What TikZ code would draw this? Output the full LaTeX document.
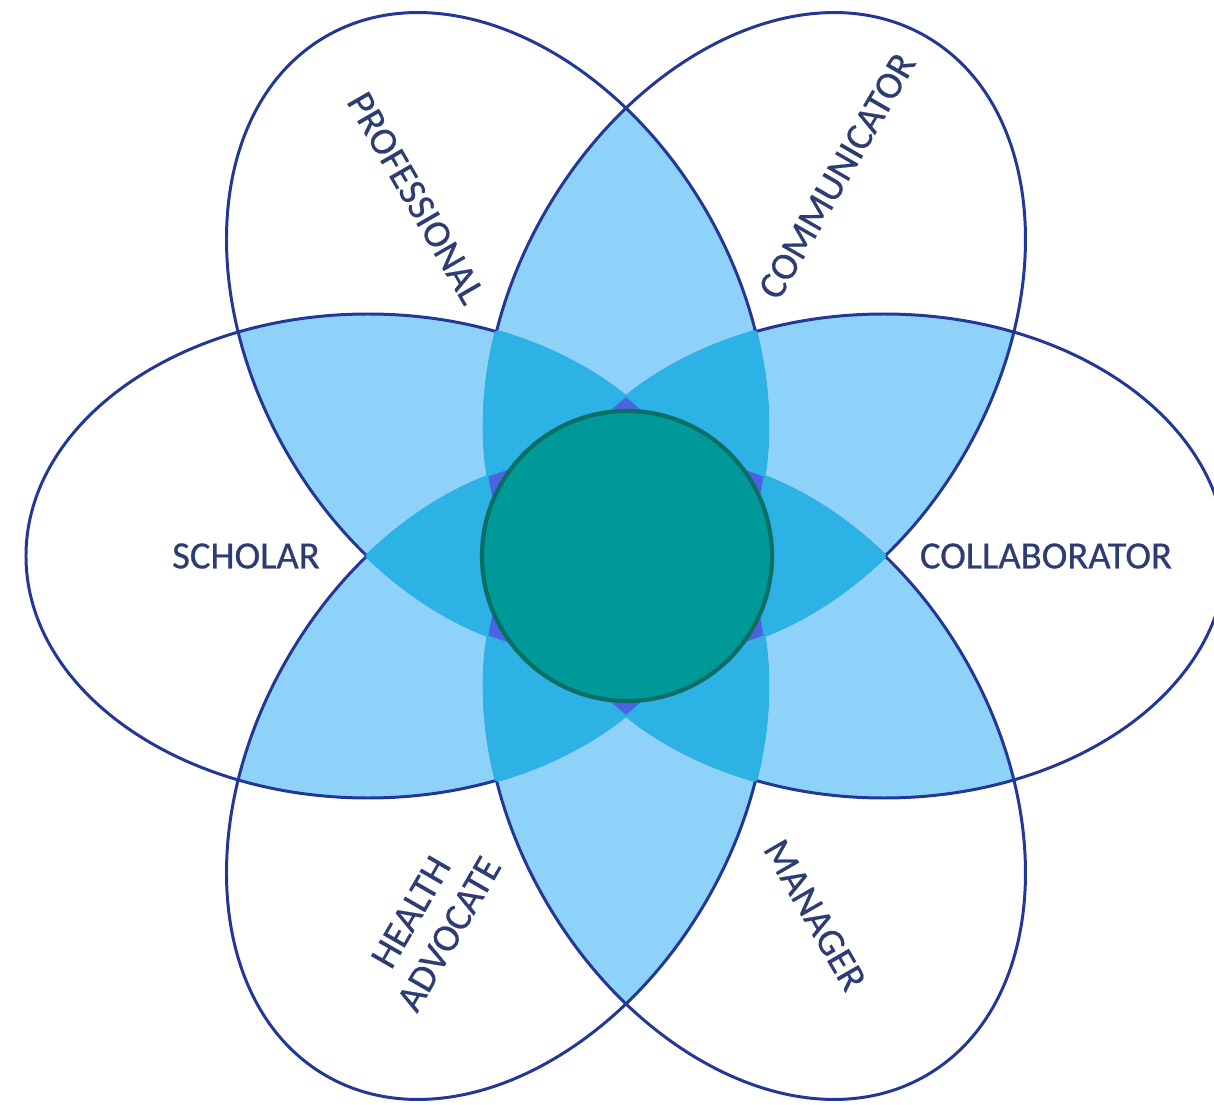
\documentclass[tikz,border=0pt]{standalone}
\usepackage{fontspec}
\setmainfont{Carlito}
\newfontfamily\rolefamily{Carlito}[FakeBold=0.5]

\definecolor{petalline}{HTML}{233796}
\definecolor{lensA}{HTML}{8ED2FA}
\definecolor{lensB}{HTML}{2DB2E6}
\definecolor{lensC}{HTML}{4B64E1}
\definecolor{rolefont}{HTML}{2D3C73}
\definecolor{corefill}{HTML}{009999}
\definecolor{coreline}{HTML}{0C6E64}

% one petal of the flower, turned by #1 times 60 degrees
\newcommand{\petal}[1]{(60*#1:2.58) ellipse [x radius=3.42, y radius=2.42, rotate=60*#1]}

\begin{document}
\begin{tikzpicture}[
  role/.style={text=rolefont, font=\rolefamily\fontsize{11}{12.5}\selectfont, align=center, inner sep=0pt},
  rim/.style={draw=petalline, line width=0.85pt},
  core/.style={circle, draw=coreline, line width=1.2pt, fill=corefill, minimum size=2.9cm, inner sep=0pt}]
\useasboundingbox (-6.26,-5.49) rectangle (5.88,5.56);

% two petals overlap
\foreach \i in {0,...,5}
  \foreach \j in {\i,...,5}{
    \ifnum\j>\i\relax
      \begin{scope}
        \clip \petal{\i};
        \fill[lensA] \petal{\j};
      \end{scope}
    \fi
  }

% petal outlines
\foreach \i in {0,...,5}
  \draw[rim] \petal{\i};

% three petals overlap (drawn edge hides the outlines inside)
\foreach \i in {0,...,5}
  \foreach \j in {\i,...,5}
    \foreach \k in {0,...,5}{
      \ifnum\j>\i\relax
        \ifnum\k=\i\relax\else
          \ifnum\k=\j\relax\else
            \begin{scope}
              \clip \petal{\i};
              \clip \petal{\j};
              \filldraw[fill=lensB, draw=lensB, line width=1pt] \petal{\k};
            \end{scope}
          \fi
        \fi
      \fi
    }

% four petals overlap
\foreach \i in {0,...,5}
  \foreach \j in {\i,...,5}
    \foreach \k in {\j,...,5}
      \foreach \l in {\k,...,5}{
        \ifnum\j>\i\relax \ifnum\k>\j\relax \ifnum\l>\k\relax
          \begin{scope}
            \clip \petal{\i};
            \clip \petal{\j};
            \clip \petal{\k};
            \fill[lensC] \petal{\l};
          \end{scope}
        \fi\fi\fi
      }

\node[core] (core) at (0.01,0) {};

\node[role] (scholar) at (-3.80,0) {SCHOLAR};
\node[role] (collab) at (4.20,0) {COLLABORATOR};
\node[role, rotate=-60] (professional) at (-2.10,3.58) {PROFESSIONAL};
\node[role, rotate=60] (communicator) at (2.11,3.80) {COMMUNICATOR};
\node[role, rotate=60] (advocate) at (-1.96,-3.67) {HEALTH\\ADVOCATE};
\node[role, rotate=-60] (manager) at (1.89,-3.59) {MANAGER};
\end{tikzpicture}
\end{document}
